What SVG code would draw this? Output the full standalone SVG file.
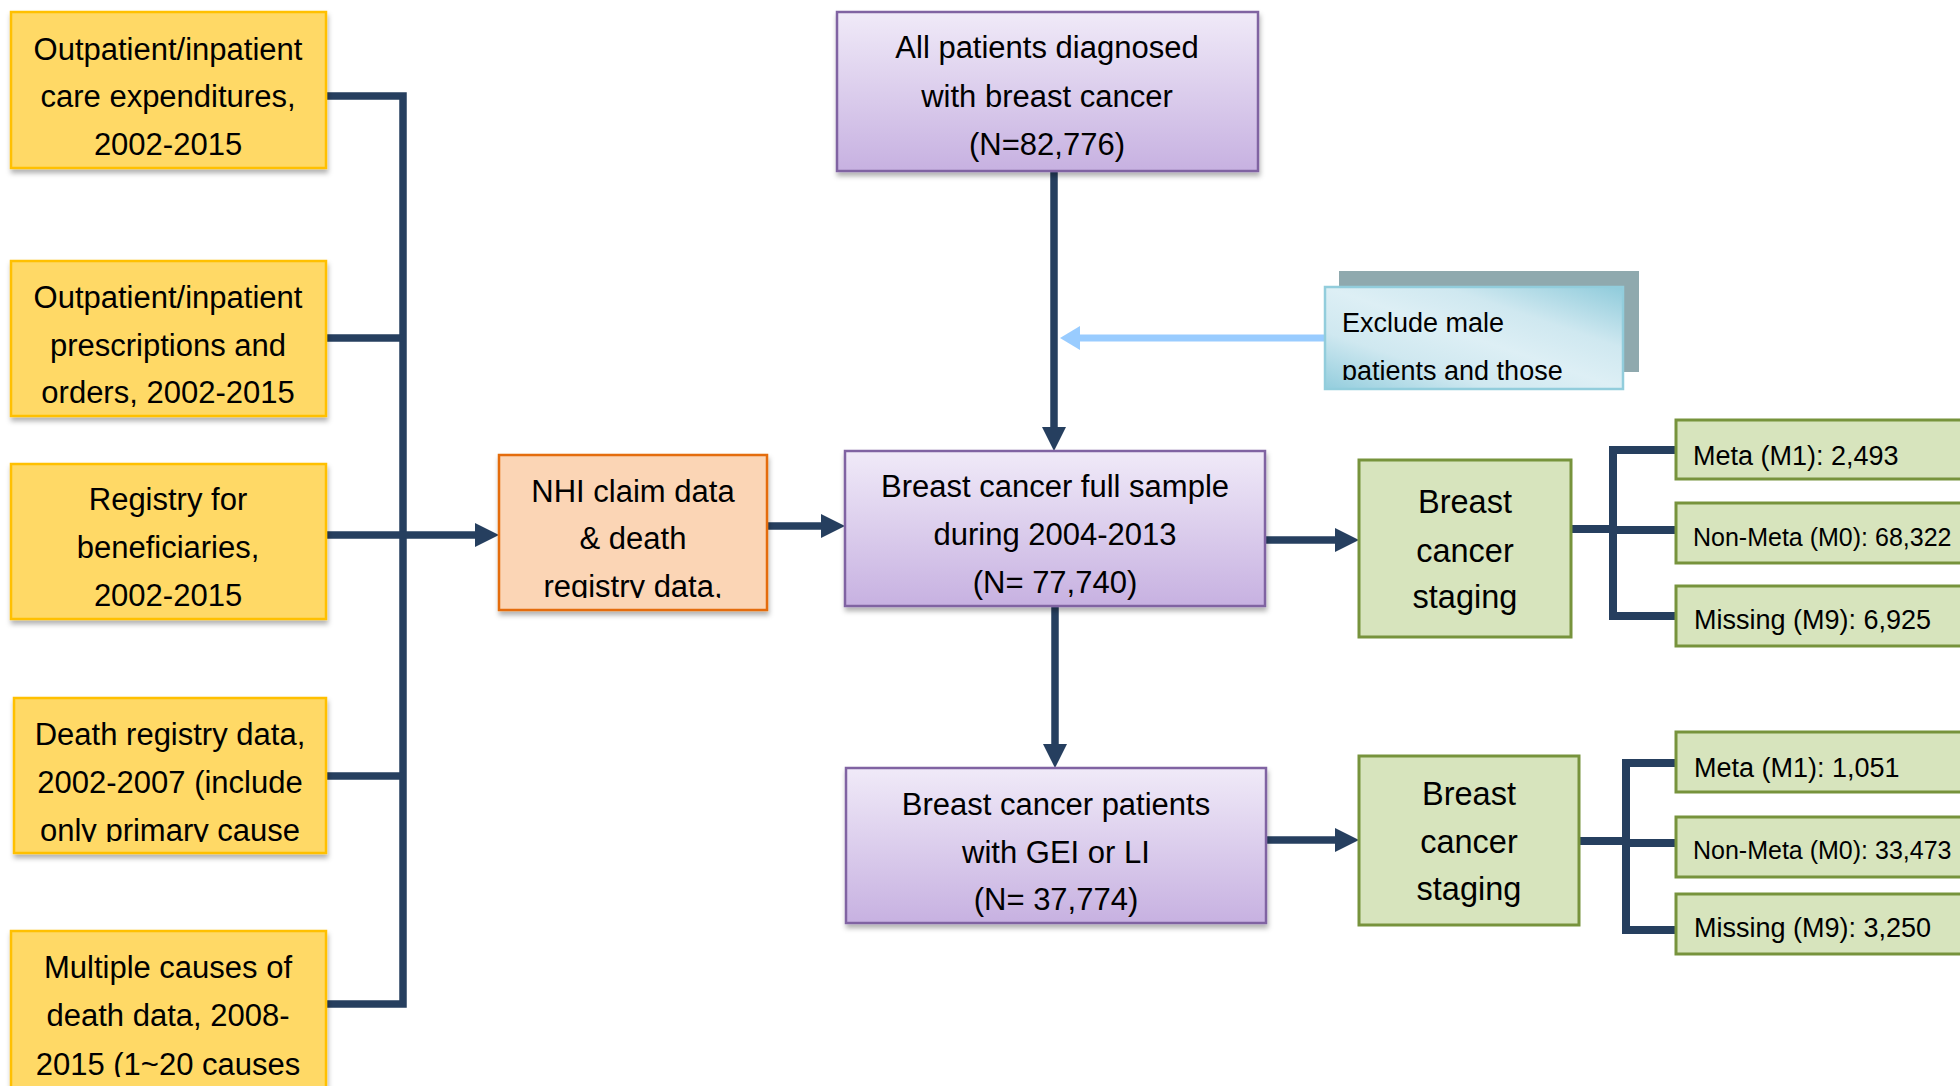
<svg xmlns="http://www.w3.org/2000/svg" width="1960" height="1086" viewBox="0 0 1960 1086">
<style>
text{font-family:"Liberation Sans",Arial,sans-serif;fill:#000}
.c{text-anchor:middle}
.t31{font-size:31px}
.t32{font-size:32.5px}
.t27{font-size:27px}
.t25{font-size:25px}
.yel{fill:#FFD966;stroke:#FFC000;stroke-width:2.5}
.org{fill:#FBD5B5;stroke:#E46C0A;stroke-width:2.5}
.pur{fill:url(#gPur);stroke:#8064A2;stroke-width:2.5}
.grn{fill:#D7E4BD;stroke:#77933C;stroke-width:3}
.dk{fill:none;stroke:#263F5F;stroke-width:7.5}
.br{fill:none;stroke:#263F5F;stroke-width:8}
</style>
<defs>
<linearGradient id="gPur" x1="0" y1="0" x2="0" y2="1">
<stop offset="0" stop-color="#F0EAF8"/>
<stop offset="1" stop-color="#C7B1E1"/>
</linearGradient>
<linearGradient id="gExc" x1="1" y1="0" x2="0" y2="1">
<stop offset="0" stop-color="#8FCBDB"/>
<stop offset="0.3" stop-color="#CFE8F0"/>
<stop offset="0.5" stop-color="#DDEFF5"/>
<stop offset="0.72" stop-color="#CFE8F0"/>
<stop offset="1" stop-color="#93CDDD"/>
</linearGradient>
<filter id="sh" x="-5%" y="-5%" width="115%" height="125%">
<feDropShadow dx="1" dy="4" stdDeviation="2.5" flood-color="#000" flood-opacity="0.3"/>
</filter>
<marker id="ah" markerUnits="userSpaceOnUse" markerWidth="24" markerHeight="24" refX="4" refY="12" orient="auto">
<path d="M0,0 L24,12 L0,24 z" fill="#263F5F"/>
</marker>
<marker id="ahl" markerUnits="userSpaceOnUse" markerWidth="20" markerHeight="24" refX="4" refY="12" orient="auto">
<path d="M0,0 L20,12 L0,24 z" fill="#99CCFF"/>
</marker>
<clipPath id="cpY4"><rect x="14" y="698" width="312" height="144"/></clipPath>
<clipPath id="cpY5"><rect x="11" y="931" width="315" height="146"/></clipPath>
<clipPath id="cpNHI"><rect x="499" y="455" width="268" height="143"/></clipPath>
<clipPath id="cpExc"><rect x="1325" y="287" width="298" height="93"/></clipPath>
</defs>

<g id="connectors">
<path class="dk" d="M326,96 H403 V1004 H326"/>
<path class="dk" d="M326,338 H403"/>
<path class="dk" d="M326,776 H403"/>
<path class="dk" d="M326,535 H479" marker-end="url(#ah)"/>
<path class="dk" d="M767,526 H825" marker-end="url(#ah)"/>
<path class="dk" d="M1054,171 V431" marker-end="url(#ah)"/>
<path class="dk" d="M1055,606 V748" marker-end="url(#ah)"/>
<path class="dk" d="M1265,540 H1339" marker-end="url(#ah)"/>
<path class="dk" d="M1266,840 H1339" marker-end="url(#ah)"/>
<path d="M1325,338 H1076" fill="none" stroke="#99CCFF" stroke-width="7" marker-end="url(#ahl)"/>
<path class="br" d="M1571,529 H1613"/>
<path class="br" d="M1676,450 H1613 V616 H1676"/>
<path class="br" d="M1613,530 H1676"/>
<path class="br" d="M1579,841 H1626"/>
<path class="br" d="M1676,763 H1626 V930 H1676"/>
<path class="br" d="M1626,843 H1676"/>
</g>

<g id="src1">
<rect class="yel" x="11" y="12" width="315" height="156" filter="url(#sh)"/>
<text class="t31 c" x="168" y="60">Outpatient/inpatient</text>
<text class="t31 c" x="168" y="107">care expenditures,</text>
<text class="t31 c" x="168" y="155">2002-2015</text>
</g>
<g id="src2">
<rect class="yel" x="11" y="261" width="315" height="155" filter="url(#sh)"/>
<text class="t31 c" x="168" y="308">Outpatient/inpatient</text>
<text class="t31 c" x="168" y="356">prescriptions and</text>
<text class="t31 c" x="168" y="403">orders, 2002-2015</text>
</g>
<g id="src3">
<rect class="yel" x="11" y="464" width="315" height="155" filter="url(#sh)"/>
<text class="t31 c" x="168" y="510">Registry for</text>
<text class="t31 c" x="168" y="558">beneficiaries,</text>
<text class="t31 c" x="168" y="606">2002-2015</text>
</g>
<g id="src4">
<rect class="yel" x="14" y="698" width="312" height="155" filter="url(#sh)"/>
<g clip-path="url(#cpY4)">
<text class="t31 c" x="170" y="745">Death registry data,</text>
<text class="t31 c" x="170" y="793">2002-2007 (include</text>
<text class="t31 c" x="170" y="841">only primary cause</text>
</g>
</g>
<g id="src5">
<rect class="yel" x="11" y="931" width="315" height="170" filter="url(#sh)"/>
<g clip-path="url(#cpY5)">
<text class="t31 c" x="168" y="978">Multiple causes of</text>
<text class="t31 c" x="168" y="1026">death data, 2008-</text>
<text class="t31 c" x="168" y="1075">2015 (1~20 causes</text>
</g>
</g>

<g id="nhi">
<rect class="org" x="499" y="455" width="268" height="155" filter="url(#sh)"/>
<g clip-path="url(#cpNHI)">
<text class="t31 c" x="633" y="502">NHI claim data</text>
<text class="t31 c" x="633" y="549">&amp; death</text>
<text class="t31 c" x="633" y="597">registry data,</text>
</g>
</g>

<g id="allpatients">
<rect class="pur" x="837" y="12" width="421" height="159" filter="url(#sh)"/>
<text class="t31 c" x="1047" y="58">All patients diagnosed</text>
<text class="t31 c" x="1047" y="107">with breast cancer</text>
<text class="t31 c" x="1047" y="155">(N=82,776)</text>
</g>

<g id="exclude">
<rect x="1339" y="271" width="300" height="101" fill="#8FA9AE"/>
<rect x="1325" y="287" width="298" height="102" fill="url(#gExc)" stroke="#92CDDC" stroke-width="2.5"/>
<g clip-path="url(#cpExc)">
<text class="t27" x="1342" y="332">Exclude male</text>
<text class="t27" x="1342" y="380">patients and those</text>
</g>
</g>

<g id="fullsample">
<rect class="pur" x="845" y="451" width="420" height="155" filter="url(#sh)"/>
<text class="t31 c" x="1055" y="497">Breast cancer full sample</text>
<text class="t31 c" x="1055" y="545">during 2004-2013</text>
<text class="t31 c" x="1055" y="593">(N= 77,740)</text>
</g>

<g id="geili">
<rect class="pur" x="846" y="768" width="420" height="155" filter="url(#sh)"/>
<text class="t31 c" x="1056" y="815">Breast cancer patients</text>
<text class="t31 c" x="1056" y="863">with GEI or LI</text>
<text class="t31 c" x="1056" y="910">(N= 37,774)</text>
</g>

<g id="staging1">
<rect class="grn" x="1359" y="460" width="212" height="177"/>
<text class="t32 c" x="1465" y="513">Breast</text>
<text class="t32 c" x="1465" y="562">cancer</text>
<text class="t32 c" x="1465" y="608">staging</text>
</g>
<g id="m1a">
<rect class="grn" x="1676" y="420" width="320" height="59"/>
<text class="t27" x="1693" y="465">Meta (M1): 2,493</text>
</g>
<g id="m0a">
<rect class="grn" x="1676" y="503" width="320" height="60"/>
<text class="t25" x="1693" y="546">Non-Meta (M0): 68,322</text>
</g>
<g id="m9a">
<rect class="grn" x="1676" y="586" width="320" height="60"/>
<text class="t27" x="1694" y="629">Missing (M9): 6,925</text>
</g>

<g id="staging2">
<rect class="grn" x="1359" y="756" width="220" height="169"/>
<text class="t32 c" x="1469" y="805">Breast</text>
<text class="t32 c" x="1469" y="853">cancer</text>
<text class="t32 c" x="1469" y="900">staging</text>
</g>
<g id="m1b">
<rect class="grn" x="1676" y="732" width="320" height="60"/>
<text class="t27" x="1694" y="777">Meta (M1): 1,051</text>
</g>
<g id="m0b">
<rect class="grn" x="1676" y="817" width="320" height="60"/>
<text class="t25" x="1693" y="859">Non-Meta (M0): 33,473</text>
</g>
<g id="m9b">
<rect class="grn" x="1676" y="894" width="320" height="60"/>
<text class="t27" x="1694" y="937">Missing (M9): 3,250</text>
</g>
</svg>
